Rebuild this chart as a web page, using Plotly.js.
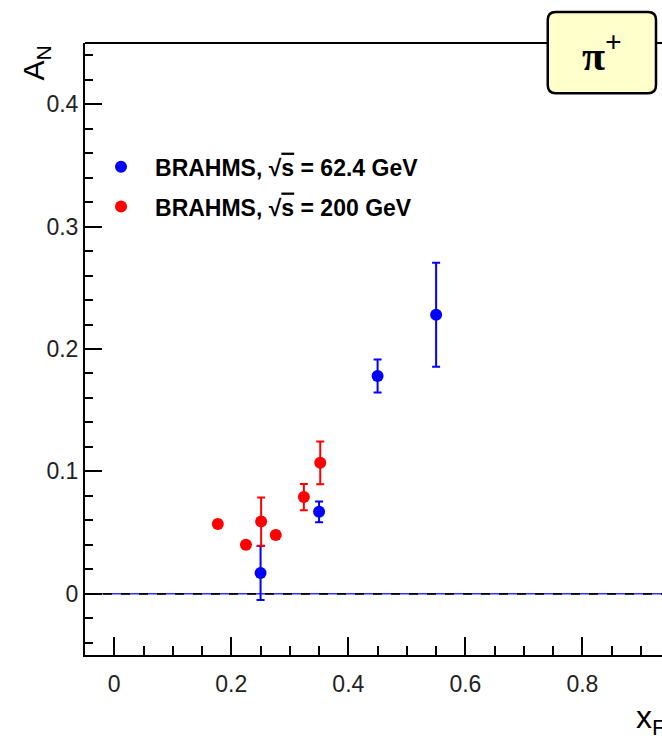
<!DOCTYPE html>
<html>
<head>
<meta charset="utf-8">
<script src="https://cdn.plot.ly/plotly-3.0.1.min.js"></script>
<style>
  html, body { margin: 0; padding: 0; background: #fff; overflow: hidden; }
  #chart { width: 662px; height: 738px; }
</style>
</head>
<body>
<div id="chart"></div>
<script>
// BRAHMS sqrt(s) = 62.4 GeV
const xF_62 = [0.25, 0.35, 0.45, 0.55];
const AN_62 = [0.017, 0.067, 0.178, 0.228];
const err_62 = [0.022, 0.0085, 0.0135, 0.0425];

// BRAHMS sqrt(s) = 200 GeV
const xF_200 = [0.177, 0.225, 0.251, 0.276, 0.324, 0.352];
const AN_200 = [0.057, 0.040, 0.059, 0.048, 0.079, 0.107];
const err_200 = [0.003, 0.003, 0.0197, 0.003, 0.0108, 0.0175];

const name_62 = "<b>BRAHMS, √<span style=\"text-decoration:overline\">s</span> = 62.4 GeV</b>";
const name_200 = "<b>BRAHMS, √<span style=\"text-decoration:overline\">s</span> = 200 GeV</b>";

const xTickVals = [0, 0.2, 0.4, 0.6, 0.8];
const yTickVals = [0, 0.1, 0.2, 0.3, 0.4];

const FONT = "Liberation Sans, Arial, Helvetica, sans-serif";

const traces = [
  {
    type: "scatter", mode: "markers", name: name_62, legendgroup: "a",
    x: xF_62, y: AN_62,
    error_y: { type: "data", array: err_62, visible: true, color: "#0000ff", thickness: 2, width: 4 },
    marker: { color: "#0000ff", size: 12, symbol: "circle" },
    cliponaxis: false
  },
  {
    type: "scatter", mode: "markers", name: name_200, legendgroup: "b",
    x: xF_200, y: AN_200,
    error_y: { type: "data", array: err_200, visible: true, color: "#ff0000", thickness: 2, width: 4 },
    marker: { color: "#ff0000", size: 12, symbol: "circle" },
    cliponaxis: false
  }
];

const kx = 8 / 577, ky = 8 / 612;
const bx0 = 0.802, bx1 = 0.9896, by0 = 0.918, by1 = 1.0507;
const boxPath =
  `M ${bx0 + kx} ${by0} L ${bx1 - kx} ${by0} Q ${bx1} ${by0} ${bx1} ${by0 + ky} ` +
  `L ${bx1} ${by1 - ky} Q ${bx1} ${by1} ${bx1 - kx} ${by1} ` +
  `L ${bx0 + kx} ${by1} Q ${bx0} ${by1} ${bx0} ${by1 - ky} ` +
  `L ${bx0} ${by0 + ky} Q ${bx0} ${by0} ${bx0 + kx} ${by0} Z`;

const layout = {
  width: 662, height: 738,
  margin: { l: 85, r: 0, t: 43, b: 83, pad: 0 },
  paper_bgcolor: "#ffffff", plot_bgcolor: "#ffffff",
  font: { family: FONT, color: "#000000", size: 22 },
  showlegend: true,
  legend: {
    x: 0.0035, y: 0.833, xanchor: "left", yanchor: "top",
    bgcolor: "rgba(0,0,0,0)", borderwidth: 0,
    font: { family: FONT, size: 23, color: "#000" },
    itemwidth: 58, traceorder: "grouped", tracegroupgap: 7
  },
  xaxis: {
    range: [-0.05, 0.936], showgrid: false, zeroline: false,
    showline: true, linecolor: "#000", linewidth: 2, mirror: false,
    ticks: "inside", ticklen: 18, tickwidth: 2, tickcolor: "#000",
    tickvals: xTickVals, ticktext: xTickVals.map(v => String(v)),
    tickfont: { family: FONT, size: 23, color: "#222" },
    ticklabelstandoff: 7,
    minor: { dtick: 0.05, tick0: 0, ticks: "inside", ticklen: 9, tickwidth: 2, tickcolor: "#000", showgrid: false }
  },
  yaxis: {
    range: [-0.05, 0.45], showgrid: false, zeroline: false,
    showline: true, linecolor: "#000", linewidth: 2, mirror: false,
    ticks: "inside", ticklen: 17, tickwidth: 2, tickcolor: "#000",
    tickvals: yTickVals, ticktext: yTickVals.map(v => String(v)),
    tickfont: { family: FONT, size: 23, color: "#222" },
    minor: { dtick: 0.02, tick0: 0, ticks: "inside", ticklen: 8, tickwidth: 2, tickcolor: "#000", showgrid: false }
  },
  shapes: [
    { type: "line", xref: "paper", yref: "y", x0: 0, x1: 1, y0: 0, y1: 0, line: { color: "#3030ff", width: 1.5 }, layer: "below" },
    { type: "line", xref: "paper", yref: "y", x0: 0, x1: 1, y0: 0, y1: 0, line: { color: "#000000", width: 1.8, dash: "dash" }, layer: "below" },
    { type: "line", xref: "paper", yref: "paper", x0: 0, x1: 1, y0: 1, y1: 1, line: { color: "#000000", width: 2 } },
    { type: "path", xref: "paper", yref: "paper", path: boxPath, fillcolor: "#ffffcc", line: { color: "#000000", width: 2.5 } }
  ],
  annotations: [
    { xref: "paper", yref: "paper", x: 0.896, y: 0.984, xanchor: "center", yanchor: "middle",
      text: "<b>π<sup>+</sup></b>", showarrow: false, font: { family: "Liberation Serif, Times New Roman, serif", size: 42, color: "#000" } },
    { xref: "paper", yref: "paper", x: -0.085, y: 1.0, xanchor: "center", yanchor: "top", textangle: -90,
      text: "A<sub>N</sub>", showarrow: false, font: { family: FONT, size: 30, color: "#000" } },
    { xref: "paper", yref: "paper", x: 0.952, y: -0.105, xanchor: "left", yanchor: "middle",
      text: "x<sub>F</sub>", showarrow: false, font: { family: FONT, size: 32, color: "#000" } }
  ]
};

Plotly.newPlot("chart", traces, layout, { displayModeBar: false, staticPlot: true });
</script>
</body>
</html>
